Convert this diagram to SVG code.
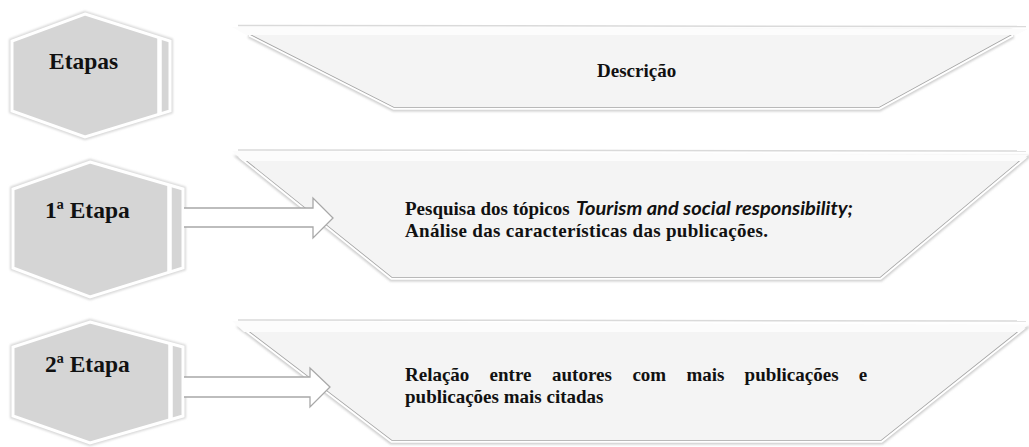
<svg xmlns="http://www.w3.org/2000/svg" width="1029" height="447" viewBox="0 0 1029 447">
<defs>
<filter id="blur1" x="-5%" y="-20%" width="110%" height="140%"><feGaussianBlur stdDeviation="1.3"/></filter>
<filter id="blur05" x="-5%" y="-20%" width="110%" height="140%"><feGaussianBlur stdDeviation="0.6"/></filter>
<filter id="hexsh" x="-10%" y="-10%" width="120%" height="120%"><feGaussianBlur stdDeviation="1.2"/></filter>
</defs>
<style>
.bg{fill:#ffffff}
.halo{fill:none;stroke:#cfcfcf;stroke-width:9;stroke-linejoin:miter}
.wline{fill:none;stroke:#ffffff;stroke-width:5.5;stroke-linejoin:miter}
.bfill{fill:#f4f4f4;stroke:#a2a2a2;stroke-width:1.6}
.band{fill:#fcfcfc}
.bandline{fill:none;stroke:#dadada;stroke-width:1.5}
.hexhalo{fill:none;stroke:#d9d9d9;stroke-width:6;stroke-linejoin:miter}
.hex{fill:#d5d5d5;stroke:#ffffff;stroke-width:3;stroke-linejoin:miter}
.gap{stroke:#ffffff;stroke-width:4.5}
.ht{font-family:"Liberation Serif","Times New Roman",serif;font-weight:bold;font-size:23.5px;fill:#111111}
.t{font-family:"Liberation Serif","Times New Roman",serif;font-weight:bold;font-size:19px;fill:#111111}
.ti{font-family:Lato,"Liberation Sans",sans-serif;font-weight:bold;font-style:italic;font-size:19px;fill:#111111}
.arrow{fill:#ffffff;stroke:#a8a8a8;stroke-width:1.3;stroke-linejoin:miter}
</style>
<rect class="bg" x="0" y="0" width="1029" height="447"/>

<g id="banner-descricao">
<polygon class="halo" filter="url(#blur1)" points="250,34 1012,34 879,107 394,107"/>
<polygon class="wline" points="250,34 1012,34 879,107 394,107"/>
<polygon class="bfill" filter="url(#blur05)" points="250,34 1012,34 879,107 394,107"/>
<polygon class="bfill" style="stroke:none" points="250,34 1012,34 879,107 394,107"/>
<polygon class="band" points="232,27 1028,29 1016,35 246,35"/>
<line class="bandline" x1="238" y1="25.5" x2="1026" y2="26.5"/>
<text class="t" x="597" y="77">Descrição</text>
</g>

<g id="banner-etapa1">
<polygon class="halo" filter="url(#blur1)" points="246,160 1020,160 880,277 392,277"/>
<polygon class="wline" points="246,160 1020,160 880,277 392,277"/>
<polygon class="bfill" filter="url(#blur05)" points="246,160 1020,160 880,277 392,277"/>
<polygon class="bfill" style="stroke:none" points="246,160 1020,160 880,277 392,277"/>
<polygon class="band" points="232,151 1028,155 1022,161 243,161"/>
<line class="bandline" x1="238" y1="150" x2="1026" y2="151"/>
<text class="t" x="405" y="215">Pesquisa dos tópicos</text>
<text class="ti" x="576" y="215" textLength="277" lengthAdjust="spacingAndGlyphs">Tourism and social responsibility;</text>
<text class="t" x="405" y="237" textLength="363" lengthAdjust="spacing">Análise das características das publicações.</text>
</g>

<g id="banner-etapa2">
<polygon class="halo" filter="url(#blur1)" points="249,331 1018,331 881,440 392,440"/>
<polygon class="wline" points="249,331 1018,331 881,440 392,440"/>
<polygon class="bfill" filter="url(#blur05)" points="249,331 1018,331 881,440 392,440"/>
<polygon class="bfill" style="stroke:none" points="249,331 1018,331 881,440 392,440"/>
<polygon class="band" points="232,321 1028,325 1020,332 244,332"/>
<line class="bandline" x1="238" y1="320" x2="1026" y2="321"/>
<text class="t" y="381"><tspan x="405">Relação</tspan><tspan x="489.6">entre</tspan><tspan x="552">autores</tspan><tspan x="632.4">com</tspan><tspan x="686.4">mais</tspan><tspan x="744.6">publicações</tspan><tspan x="858.8">e</tspan></text>
<text class="t" x="405" y="403">publicações mais citadas</text>
</g>

<g id="hex-etapas">
<polygon class="hexhalo" filter="url(#hexsh)" points="85,14 170,41 170,111 85,137 12,111 12,41"/>
<polygon class="hex" points="85,14 170,41 170,111 85,137 12,111 12,41"/>
<line class="gap" x1="159.5" y1="37" x2="159.5" y2="115"/>
<text class="ht" x="49" y="69">Etapas</text>
</g>

<g id="hex-etapa1">
<polygon class="hexhalo" filter="url(#hexsh)" points="90,162 183,189 183,268 90,297 13,268 13,189"/>
<polygon class="hex" points="90,162 183,189 183,268 90,297 13,268 13,189"/>
<line class="gap" x1="169.5" y1="184" x2="169.5" y2="273"/>
<text class="ht" x="45" y="218">1ª Etapa</text>
</g>

<g id="hex-etapa2">
<polygon class="hexhalo" filter="url(#hexsh)" points="90,322 183,347 183,416 90,443 13,416 13,347"/>
<polygon class="hex" points="90,322 183,347 183,416 90,443 13,416 13,347"/>
<line class="gap" x1="170.5" y1="343" x2="170.5" y2="420"/>
<text class="ht" x="45" y="372">2ª Etapa</text>
</g>

<g id="connectors">
<path class="arrow" d="M184,208 H313 V198 L333,218 L313,238 V227 H184"/>
<path class="arrow" d="M184,377 H310 V368 L330,387 L310,407 V397 H184"/>
</g>
</svg>
